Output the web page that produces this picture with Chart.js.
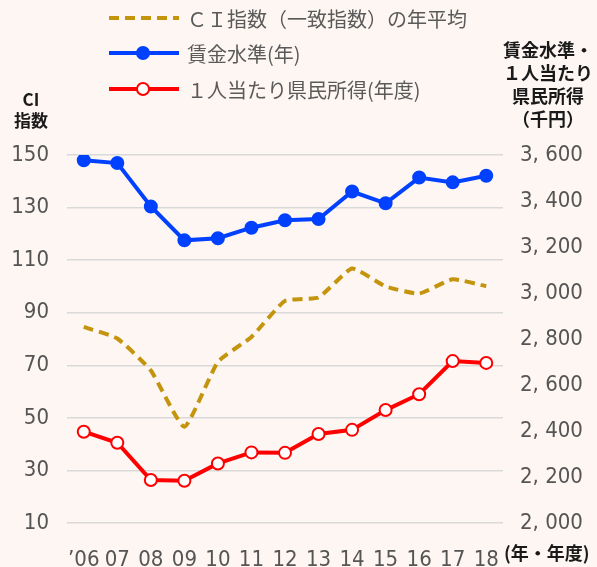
<!DOCTYPE html>
<html lang="ja">
<head>
<meta charset="utf-8">
<title>CI指数と賃金水準・県民所得</title>
<script src="https://cdn.jsdelivr.net/npm/chart.js@4/dist/chart.umd.min.js"></script>
<style>
  html, body { margin: 0; padding: 0; background: #fdf6f2; }
  canvas { display: block; }
</style>
</head>
<body>
<canvas id="chart" width="597" height="567"></canvas>
<script>
// data
const years = ["’06", "07", "08", "09", "10", "11", "12", "13", "14", "15", "16", "17", "18"];
const ciIndex = [84.6, 80.2, 68, 46.6, 71.3, 80.8, 94.5, 95.8, 106.8, 100, 97.3, 102.7, 100.1];
const wageLevel = [3577, 3565, 3376, 3229, 3238, 3284, 3316, 3322, 3441, 3390, 3502, 3481, 3510];
const incomePerCapita = [2397, 2349, 2187, 2184, 2259, 2307, 2305, 2387, 2405, 2491, 2560, 2704, 2696];

const legendLabels = ["ＣＩ指数（一致指数）の年平均", "賃金水準(年)", "１人当たり県民所得(年度)"];
const leftTitle = ["CI", "指数"];
const rightTitle = ["賃金水準・", "１人当たり", "県民所得", "（千円）"];
const xUnit = "(年・年度)";

const GOLD = "#c4940c";
const BLUE = "#0040ff";
const RED = "#ff0000";
const TICK_FONT = "'Liberation Sans Narrow', 'DejaVu Sans Condensed', 'Roboto', sans-serif";
const JP_FONT = "'Noto Sans CJK JP', 'Noto Sans', sans-serif";

const extras = {
  id: "extras",
  afterDraw(chart) {
    const ctx = chart.ctx;
    ctx.save();

    // legend
    const rows = [18, 53, 89];
    const styles = [
      { color: GOLD, dash: [10, 6], point: null },
      { color: BLUE, dash: [], point: "fill" },
      { color: RED, dash: [], point: "open" },
    ];
    rows.forEach((y, i) => {
      const s = styles[i];
      ctx.strokeStyle = s.color;
      ctx.lineWidth = 4;
      ctx.setLineDash(s.dash);
      ctx.beginPath();
      ctx.moveTo(109, y);
      ctx.lineTo(179, y);
      ctx.stroke();
      ctx.setLineDash([]);
      if (s.point) {
        ctx.beginPath();
        ctx.arc(143, y, 6, 0, Math.PI * 2);
        ctx.fillStyle = s.point === "fill" ? BLUE : "#ffffff";
        ctx.fill();
        ctx.lineWidth = 2;
        ctx.stroke();
      }
      ctx.fillStyle = "#5a5a5a";
      ctx.font = "20px " + JP_FONT;
      ctx.textAlign = "left";
      ctx.textBaseline = "middle";
      ctx.fillText(legendLabels[i], 187, y + 1);
    });

    // axis titles
    ctx.fillStyle = "#1a1a1a";
    ctx.textAlign = "center";
    ctx.textBaseline = "middle";
    ctx.font = "bold 17px " + JP_FONT;
    ctx.fillText(leftTitle[0], 31, 100);
    ctx.fillText(leftTitle[1], 31, 121);
    ctx.font = "bold 18px " + JP_FONT;
    rightTitle.forEach((t, i) => ctx.fillText(t, 548, 50 + i * 23));

    ctx.font = "bold 18px " + JP_FONT;
    ctx.textAlign = "left";
    ctx.fillText(xUnit, 504, 553);
    ctx.restore();
  },
};

const fmtThousands = (v) => Math.floor(v / 1000) + ", " + String(v % 1000).padStart(3, "0");

new Chart(document.getElementById("chart"), {
  type: "line",
  data: {
    labels: years,
    datasets: [
      {
        label: legendLabels[0],
        data: ciIndex,
        yAxisID: "y",
        borderColor: GOLD,
        borderWidth: 4,
        borderDash: [10, 6],
        pointRadius: 0,
        tension: 0.15,
        fill: false,
      },
      {
        label: legendLabels[1],
        data: wageLevel,
        yAxisID: "y1",
        borderColor: BLUE,
        backgroundColor: BLUE,
        borderWidth: 4,
        pointRadius: 6,
        pointBorderWidth: 2,
        pointBackgroundColor: BLUE,
        tension: 0,
      },
      {
        label: legendLabels[2],
        data: incomePerCapita,
        yAxisID: "y1",
        borderColor: RED,
        backgroundColor: RED,
        borderWidth: 4,
        pointRadius: 6,
        pointBorderWidth: 2,
        pointBackgroundColor: "#ffffff",
        tension: 0,
      },
    ],
  },
  options: {
    responsive: false,
    animation: false,
    layout: { padding: { top: 155, left: 0, right: 0, bottom: 0 } },
    plugins: {
      legend: { display: false },
      tooltip: { enabled: false },
    },
    scales: {
      x: {
        offset: true,
        grid: { display: false },
        border: { display: false },
        ticks: {
          color: "#555555",
          font: { family: TICK_FONT, size: 22 },
          padding: 16,
          maxRotation: 0,
          autoSkip: false,
        },
        afterFit(scale) { scale.height = 44; },
      },
      y: {
        position: "left",
        min: 10,
        max: 150,
        grid: { color: "#d9d9d9", lineWidth: 1.5, drawTicks: false },
        border: { display: false },
        ticks: {
          stepSize: 20,
          color: "#555555",
          font: { family: TICK_FONT, size: 22 },
          padding: 18,
        },
        afterFit(scale) { scale.width = 67; },
      },
      y1: {
        position: "right",
        min: 2000,
        max: 3600,
        grid: { display: false, drawTicks: false },
        border: { display: false },
        ticks: {
          stepSize: 200,
          color: "#555555",
          font: { family: TICK_FONT, size: 22 },
          padding: 17,
          callback: (v) => fmtThousands(v),
        },
        afterFit(scale) { scale.width = 94; },
      },
    },
  },
  plugins: [extras],
});
</script>
</body>
</html>
